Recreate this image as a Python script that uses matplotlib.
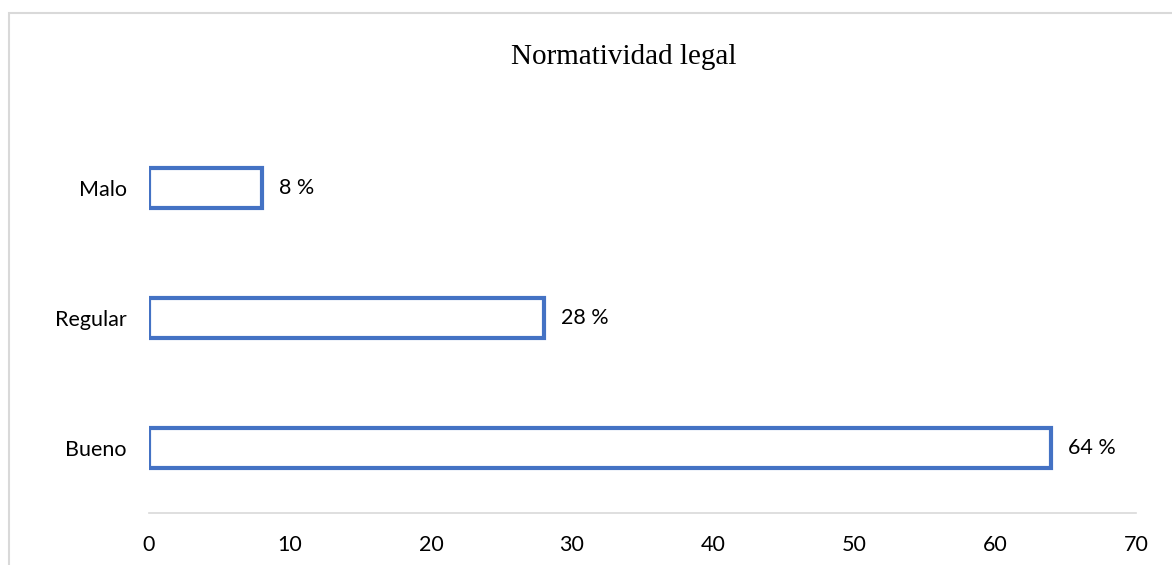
import matplotlib.pyplot as plt
from matplotlib.patches import Rectangle

categories = ["Bueno", "Regular", "Malo"]
values = [64, 28, 8]
bar_labels = ["64 %", "28 %", "8 %"]
xticks = [0, 10, 20, 30, 40, 50, 60, 70]

W, H = 1172, 565
fig = plt.figure(figsize=(W / 100, H / 100), dpi=100)

# light gray chart border (cut by the image edges on right/bottom)
fig.patches.append(Rectangle((9 / W, -0.1), 1.2, 1 - 13 / H + 0.1,
                             transform=fig.transFigure, fill=False,
                             edgecolor="#d9d9d9", linewidth=1.5))

# axes: x=0 at px 149, x=70 at px 1136, y from 123 to 513
left, right, top, bottom = 149, 1136, 123, 513
ax = fig.add_axes([left / W, 1 - bottom / H, (right - left) / W, (bottom - top) / H])

bars = ax.barh(categories, values, height=0.31, color="white",
               edgecolor="#4472C4", linewidth=3)

fs = 15.5
for b, lab in zip(bars, bar_labels):
    ax.text(b.get_width() + 1.2, b.get_y() + b.get_height() / 2, lab,
            va="center", ha="left", fontsize=fs, family="Lato", color="#000000")

ax.set_xlim(0, 70)
ax.set_ylim(-0.5, 2.5)
ax.set_xticks(xticks)
ax.set_xticklabels([str(t) for t in xticks], fontsize=fs, family="Lato", color="#000000")
for t in ax.get_yticklabels():
    t.set_fontsize(fs)
    t.set_family("Lato")
    t.set_color("#000000")
ax.tick_params(axis="both", length=0)
ax.tick_params(axis="x", pad=16)
ax.tick_params(axis="y", pad=16)

for s in ["top", "right", "left"]:
    ax.spines[s].set_visible(False)
ax.spines["bottom"].set_color("#d9d9d9")
ax.spines["bottom"].set_linewidth(1.2)

fig.text(624 / W, 1 - 57 / H, "Normatividad legal", ha="center", va="center",
         fontsize=21, family="Liberation Serif", color="#000000")

fig.savefig("out.png", dpi=100)
